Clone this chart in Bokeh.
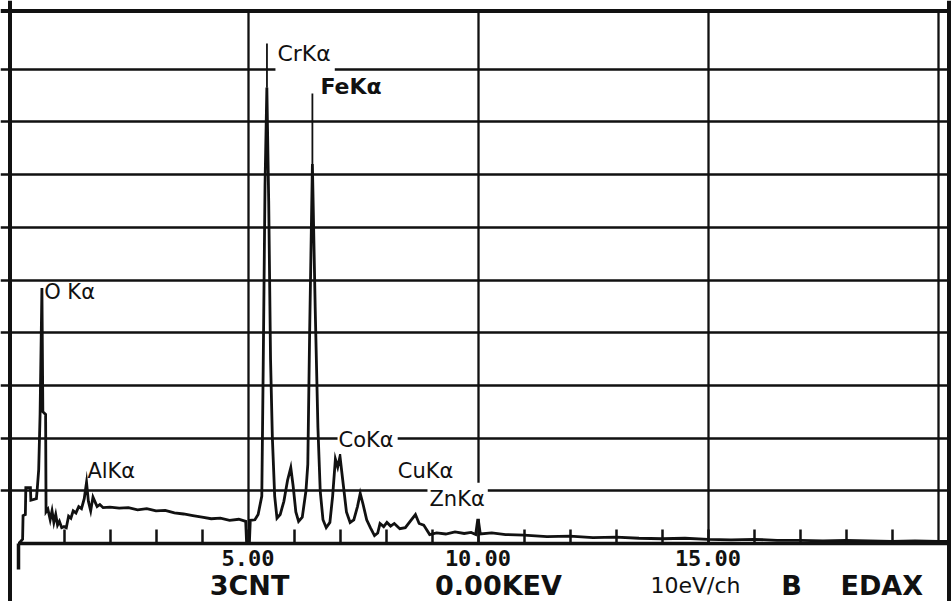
from bokeh.plotting import figure
from bokeh.models import Range1d, LinearAxis, FixedTicker, Grid, Span, Label
from bokeh.embed import file_html
from bokeh.resources import INLINE

# ---------------- data ----------------
energy_kev = [0.00, 0.02, 0.10, 0.11, 0.16, 0.17, 0.27, 0.28, 0.40, 0.42, 0.45, 0.48, 0.52, 0.54,
              0.60, 0.61, 0.65, 0.70, 0.74, 0.78, 0.82, 0.86, 0.90, 0.95, 1.00, 1.05, 1.10, 1.15,
              1.20, 1.26, 1.32, 1.38, 1.44, 1.49, 1.53, 1.58, 1.63, 1.67, 1.72, 1.78, 1.85, 2.00,
              2.20, 2.40, 2.60, 2.80, 3.00, 3.20, 3.40, 3.60, 3.80, 4.00, 4.20, 4.40, 4.60, 4.80,
              4.95, 4.97, 5.03, 5.05, 5.15, 5.22, 5.30, 5.33, 5.37, 5.41, 5.45, 5.49, 5.53, 5.58,
              5.63, 5.70, 5.78, 5.86, 5.93, 5.98, 6.04, 6.10, 6.18, 6.26, 6.30, 6.34, 6.40, 6.46,
              6.52, 6.57, 6.63, 6.70, 6.78, 6.84, 6.90, 6.95, 7.00, 7.06, 7.14, 7.22, 7.30, 7.38,
              7.44, 7.50, 7.58, 7.66, 7.75, 7.82, 7.87, 7.95, 8.02, 8.10, 8.18, 8.30, 8.42, 8.55,
              8.64, 8.72, 8.82, 8.95, 9.10, 9.30, 9.50, 9.70, 9.85, 9.95, 10.00, 10.05, 10.30,
              10.60, 11.00, 11.50, 12.00, 12.50, 13.00, 13.50, 14.00, 14.50, 15.00, 15.50, 16.00,
              16.50, 17.00, 17.50, 18.00, 18.50, 19.00, 19.50, 20.00, 20.20]
intensity = [0.00, 0.00, 0.08, 0.53, 0.55, 1.06, 1.06, 0.82, 0.85, 1.05, 1.40, 2.45, 4.85, 2.50,
             2.45, 0.60, 0.65, 0.45, 0.62, 0.40, 0.55, 0.35, 0.42, 0.30, 0.32, 0.30, 0.52, 0.48,
             0.62, 0.58, 0.70, 0.66, 0.85, 1.16, 0.80, 0.62, 0.88, 0.80, 0.70, 0.74, 0.68, 0.69,
             0.67, 0.68, 0.64, 0.66, 0.62, 0.63, 0.58, 0.56, 0.53, 0.50, 0.47, 0.48, 0.44, 0.46,
             0.42, 0.00, 0.00, 0.44, 0.45, 0.55, 0.90, 3.30, 6.80, 8.65, 6.50, 3.50, 2.00, 0.90,
             0.48, 0.55, 0.80, 1.20, 1.44, 1.10, 0.60, 0.42, 0.50, 1.00, 1.50, 4.00, 7.20, 4.50,
             2.20, 1.00, 0.45, 0.30, 0.40, 0.90, 1.60, 1.45, 1.65, 1.20, 0.60, 0.40, 0.45, 0.70,
             0.95, 0.75, 0.45, 0.30, 0.15, 0.20, 0.38, 0.32, 0.40, 0.33, 0.38, 0.28, 0.30, 0.45,
             0.55, 0.38, 0.35, 0.17, 0.20, 0.18, 0.22, 0.19, 0.21, 0.17, 0.49, 0.18, 0.20,
             0.17, 0.16, 0.13, 0.14, 0.11, 0.12, 0.10, 0.09, 0.10, 0.08, 0.07, 0.08,
             0.06, 0.06, 0.05, 0.06, 0.05, 0.04, 0.05, 0.04, 0.04]

line_names = ["O K\u03b1", "AlK\u03b1", "CrK\u03b1", "FeK\u03b1", "CoK\u03b1", "CuK\u03b1", "ZnK\u03b1"]
line_energy = [0.525, 1.487, 5.412, 6.400, 6.925, 8.040, 8.630]
label_height = [4.63, 1.25, 9.12, 8.54, 1.82, 1.25, 0.68]

marker_energy = [5.412, 6.400]
marker_low = [8.65, 7.20]
marker_high = [9.49, 8.54]

tick_values = [5, 10, 15]
tick_labels = ["5.00", "10.00", "15.00"]
status_texts = ["3CNT", "0.00KEV", "10eV/ch", "B", "EDAX"]

# ---------------- layout helpers (canvas pixels -> data) ----------------
PX_PER_KEV = 46.0
PX_PER_DIV = 52.7
ZERO_X = 17.5     # canvas x of 0 keV
BASE_Y = 543.0    # canvas y of the baseline
W, H = 951, 601
TEXT_SHIFT = 7    # px the renderer drops an alphabetic-baseline label


def ex(px):
    return (px - ZERO_X) / PX_PER_KEV


def vy(py):
    return (BASE_Y - py) / PX_PER_DIV


p = figure(width=W, height=H, output_backend="svg", toolbar_location=None,
           x_axis_location=None, y_axis_location=None,
           x_range=Range1d(ex(0), ex(W)), y_range=Range1d(vy(H), vy(0)),
           min_border=0, min_border_left=0, min_border_right=0,
           min_border_top=0, min_border_bottom=0)
p.outline_line_color = None
p.grid.visible = False
p.background_fill_color = "white"
p.border_fill_color = "white"

INK = "#111111"

# grids
xg = Grid(dimension=0, ticker=FixedTicker(ticks=[5, 10, 15, 20]),
          grid_line_color=INK, grid_line_width=2.3, cross_bounds=(0, vy(10)))
yg = Grid(dimension=1, ticker=FixedTicker(ticks=list(range(1, 10))),
          grid_line_color=INK, grid_line_width=2.3)
p.add_layout(xg, "center")
p.add_layout(yg, "center")

# spectrum
p.line(energy_kev, intensity, line_color=INK, line_width=2.8, line_join="miter")

# KLM markers
p.segment(x0=marker_energy, y0=marker_low, x1=marker_energy, y1=marker_high,
          line_color=INK, line_width=1.8)

# x axis at the baseline
overrides = {i: "" for i in range(0, 21)}
for t, s in zip(tick_values, tick_labels):
    overrides[t] = s
xa = LinearAxis(fixed_location=0, ticker=FixedTicker(ticks=list(range(1, 20))),
                major_label_overrides=overrides, bounds=(0, ex(951)))
xa.axis_line_color = INK
xa.axis_line_width = 3.5
xa.major_tick_in = 14
xa.major_tick_out = 0
xa.major_tick_line_width = 2.5
xa.major_tick_line_color = INK
xa.minor_tick_line_color = None
xa.major_label_standoff = 6
xa.major_label_text_font = "DejaVu Sans Mono"
xa.major_label_text_font_style = "bold"
xa.major_label_text_font_size = "22px"
xa.major_label_text_color = INK
p.add_layout(xa, "below")

# zero marker below the baseline
za = LinearAxis(fixed_location=0, ticker=FixedTicker(ticks=[0]),
                major_label_overrides={0: ""})
za.axis_line_color = None
za.major_tick_in = 0
za.major_tick_out = 26
za.major_tick_line_width = 3.5
za.major_tick_line_color = INK
za.minor_tick_line_color = None
za.major_label_text_font_size = "1px"
p.add_layout(za, "below")

# frame lines (left, right, top)
for loc, dim in [(ex(9.5), "height"), (ex(948.5), "height"), (vy(10.5), "width")]:
    p.add_layout(Span(location=loc, dimension=dim, line_color=INK, line_width=4))

# element labels
label_dx = [2, 1, 8.5, 8, 1, 10, 12.5]
label_size = ["21px", "21px", "22px", "22px", "21px", "21px", "21px"]
label_style = ["normal", "normal", "normal", "bold", "normal", "normal", "normal"]
label_pad = [None, None, dict(left=2, right=4, top=1, bottom=6), None,
             dict(left=1, right=4, top=1, bottom=2), None,
             dict(left=2, right=3, top=4, bottom=8)]
for name, e, h, dx, fs, st, pad in zip(line_names, line_energy, label_height,
                                       label_dx, label_size, label_style, label_pad):
    kw = {}
    if pad is not None:
        kw = dict(background_fill_color="white", padding=pad)
    p.add_layout(Label(x=e, y=h + TEXT_SHIFT / PX_PER_DIV, x_offset=dx, text=name,
                       text_font="DejaVu Sans", text_font_size=fs, text_font_style=st,
                       text_color=INK, text_align="left", text_baseline="alphabetic", **kw))

# status line
status_x = [249, 498, 695, 791, 840]
status_align = ["center", "center", "center", "center", "left"]
status_size = ["27px", "27px", "22px", "27px", "27px"]
status_style = ["bold", "bold", "normal", "bold", "bold"]
for t, x, al, fs, st in zip(status_texts, status_x, status_align, status_size, status_style):
    p.add_layout(Label(x=ex(x), y=vy(592 - TEXT_SHIFT), text=t, text_font="DejaVu Sans",
                       text_font_size=fs, text_font_style=st, text_color=INK,
                       text_align=al, text_baseline="alphabetic"))

open("out.html", "w").write(file_html(p, INLINE))
